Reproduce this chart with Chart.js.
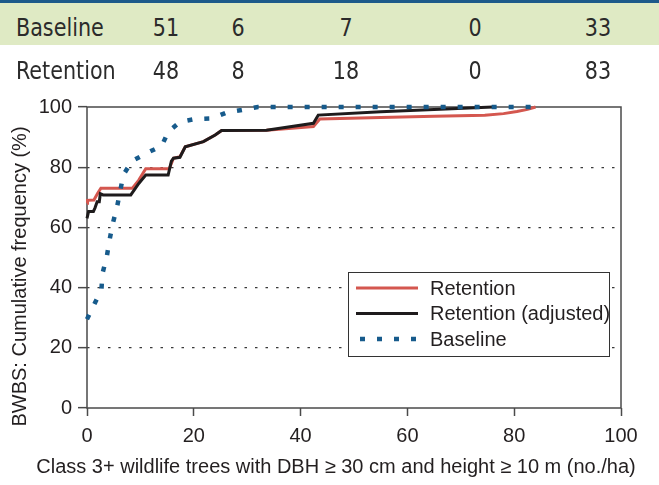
<!DOCTYPE html>
<html>
<head>
<meta charset="utf-8">
<script src="https://cdn.jsdelivr.net/npm/chart.js@4/dist/chart.umd.min.js"></script>
<style>
  html, body { margin: 0; padding: 0; background: #fff; }
  #wrap { position: relative; width: 659px; height: 485px; overflow: hidden; }
  #chart { position: absolute; left: 0; top: 0; }
  .rule { position: absolute; left: 0; top: 0; width: 659px; height: 3px; background: #1d5a8a; }
  .row { position: absolute; left: 0; width: 659px; height: 42px; }
  .row.shaded { background: #dfeac4; }
  .cell { position: absolute; top: 0; height: 42px; line-height: 49px; white-space: nowrap;
          font-family: "Liberation Sans Narrow", "DejaVu Sans Condensed", sans-serif; font-size: 25px; color: #2b2b2b;
          transform-origin: 0 50%; transform: scaleX(0.92); }
  .cell.num { transform-origin: 50% 50%; transform: translateX(-50%) scaleX(0.92); }
</style>
</head>
<body>
<div id="wrap">
  <canvas id="chart" width="659" height="485"></canvas>
  <div class="rule"></div>
  <div id="table"></div>
</div>
<script>
// Counts per class shown in the summary table
const tableLabels = ['Baseline', 'Retention'];
const baselineCounts = [51, 6, 7, 0, 33];
const retentionCounts = [48, 8, 18, 0, 83];

// Cumulative frequency curves (x: trees/ha, y: %)
const retentionX = [0, 0.1, 1.3, 2.0, 2.6, 8.5, 9.7, 11.0, 15.4, 16.2, 17.4, 18.4, 21.8, 24.0, 25.2, 33.6, 42.4, 43.6, 55.0, 65.0, 74.5, 78.0, 80.5, 82.5, 84.0];
const retentionY = [68, 69, 69.1, 71.3, 73, 73, 75.7, 79.5, 79.5, 83, 83.5, 86.8, 88.5, 90.7, 92.2, 92.3, 93.5, 96, 96.5, 96.9, 97.3, 97.8, 98.5, 99.2, 100];

const adjustedX = [0, 0.3, 1.2, 1.5, 1.9, 2.3, 2.5, 3.0, 8.2, 9.7, 11.0, 15.2, 15.8, 16.2, 17.4, 18.4, 21.8, 24.0, 25.2, 33.6, 42.4, 43.3, 55.0, 65.0, 76.0];
const adjustedY = [63, 65.3, 65.3, 66.5, 68.5, 68.5, 71.2, 70.8, 70.8, 74.6, 77.4, 77.4, 82, 83, 83.3, 86.8, 88.5, 90.7, 92.2, 92.3, 94.6, 97.3, 98.4, 99.2, 100];

const baselineX = [0, 1.5, 2.7, 2.9, 3.7, 4.2, 4.8, 5.6, 6.2, 6.8, 8.4, 11.2, 14.0, 15.2, 17.4, 20.2, 23.4, 26.2, 29.0, 32.0, 84.0];
const baselineY = [29.5, 35, 39.3, 44.7, 50.2, 55.6, 61.1, 66.6, 71.9, 77.4, 82, 84.7, 87.1, 91.7, 95, 96, 96.2, 98.2, 99, 100, 100];

const xTicks = [0, 20, 40, 60, 80, 100];
const yTicks = [0, 20, 40, 60, 80, 100];

const xTitle = 'Class 3+ wildlife trees with DBH \u2265 30 cm and height \u2265 10 m (no./ha)';
const yTitle = 'BWBS: Cumulative frequency (%)';

// ---- summary table ----
const colCenters = [166, 238, 346, 475, 598];
const table = document.getElementById('table');
[baselineCounts, retentionCounts].forEach((counts, r) => {
  const row = document.createElement('div');
  row.className = 'row' + (r === 0 ? ' shaded' : '');
  row.style.top = (r === 0 ? 3 : 46) + 'px';
  const lab = document.createElement('div');
  lab.className = 'cell';
  lab.style.left = '16px';
  lab.textContent = tableLabels[r];
  row.appendChild(lab);
  counts.forEach((v, i) => {
    const c = document.createElement('div');
    c.className = 'cell num';
    c.style.left = colCenters[i] + 'px';
    c.textContent = v;
    row.appendChild(c);
  });
  table.appendChild(row);
});

// ---- chart ----
const pts = (xs, ys) => xs.map((x, i) => ({ x, y: ys[i] }));
const FONT = 'Liberation Sans, Arial, sans-serif';
const INK = '#231f20';

const framePlugin = {
  id: 'frameAndTitles',
  beforeDatasetsDraw(chart) {
    const { ctx, chartArea: a } = chart;
    ctx.save();
    ctx.strokeStyle = '#4a4a4a';
    ctx.lineWidth = 1.5;
    ctx.strokeRect(a.left, a.top, a.right - a.left, a.bottom - a.top);
    ctx.restore();
  },
  afterDatasetsDraw(chart) {
    const { ctx, chartArea: a } = chart;
    ctx.save();
    ctx.fillStyle = INK;
    ctx.font = '20px ' + FONT;
    ctx.textAlign = 'center';
    ctx.textBaseline = 'middle';
    // axis titles
    ctx.fillText(xTitle, a.left + 249, a.bottom + 59);
    ctx.save();
    ctx.translate(20, (a.top + a.bottom) / 2 + 19);
    ctx.rotate(-Math.PI / 2);
    ctx.fillText(yTitle, 0, 0);
    ctx.restore();

    // legend box
    const bx = a.left + 261, by = a.top + 165, bw = 261, bh = 84;
    ctx.fillStyle = '#fff';
    ctx.fillRect(bx, by, bw, bh);
    ctx.strokeStyle = '#333';
    ctx.lineWidth = 1;
    ctx.strokeRect(bx + 0.5, by + 0.5, bw, bh);
    chart.data.datasets.forEach((ds, i) => {
      const yy = by + 16 + i * 25.5;
      ctx.save();
      ctx.strokeStyle = ds.borderColor;
      ctx.lineWidth = ds.borderWidth;
      ctx.setLineDash(ds.borderDash || []);
      ctx.beginPath();
      ctx.moveTo(bx + (ds.borderDash ? 12 : 8), yy);
      ctx.lineTo(bx + 70, yy);
      ctx.stroke();
      ctx.restore();
      ctx.fillStyle = INK;
      ctx.textAlign = 'left';
      ctx.fillText(ds.label, bx + 82, yy + 1);
    });
    ctx.restore();
  }
};

new Chart(document.getElementById('chart'), {
  type: 'line',
  data: {
    datasets: [
      { label: 'Retention', data: pts(retentionX, retentionY), borderColor: '#d4574f', borderWidth: 3, order: 3 },
      { label: 'Retention (adjusted)', data: pts(adjustedX, adjustedY), borderColor: '#1e1b1c', borderWidth: 3, order: 2 },
      { label: 'Baseline', data: pts(baselineX, baselineY), borderColor: '#175b8c', borderWidth: 4.5, borderDash: [5, 12], borderCapStyle: 'butt', order: 1 }
    ]
  },
  options: {
    responsive: false,
    devicePixelRatio: 1,
    animation: false,
    layout: { padding: { top: 107, right: 38, left: 0, bottom: 0 } },
    elements: { point: { radius: 0 }, line: { tension: 0, fill: false } },
    datasets: { line: { clip: false } },
    plugins: { legend: { display: false }, tooltip: { enabled: false } },
    scales: {
      x: {
        type: 'linear', min: 0, max: 100,
        afterFit(s) { s.height = 77; },
        afterBuildTicks(s) { s.ticks = xTicks.map(v => ({ value: v })); },
        ticks: { color: INK, font: { family: FONT, size: 20 }, padding: 8, maxRotation: 0 },
        grid: { drawOnChartArea: false, tickLength: 8, tickColor: '#4a4a4a', tickWidth: 1.5 },
        border: { display: false }
      },
      y: {
        min: 0, max: 100,
        afterFit(s) { s.width = 87; },
        afterBuildTicks(s) { s.ticks = yTicks.map(v => ({ value: v })); },
        ticks: { color: INK, font: { family: FONT, size: 20 }, padding: 6 },
        grid: {
          color: c => (c.tick && (c.tick.value === 0 || c.tick.value === 100)) ? 'rgba(0,0,0,0)' : '#3a3a3a',
          lineWidth: 1.3,
          tickLength: 9, tickColor: '#4a4a4a', tickWidth: 1.5, tickBorderDash: []
        },
        border: { display: false, dash: [2.5, 8] }
      }
    }
  },
  plugins: [framePlugin]
});
</script>
</body>
</html>
